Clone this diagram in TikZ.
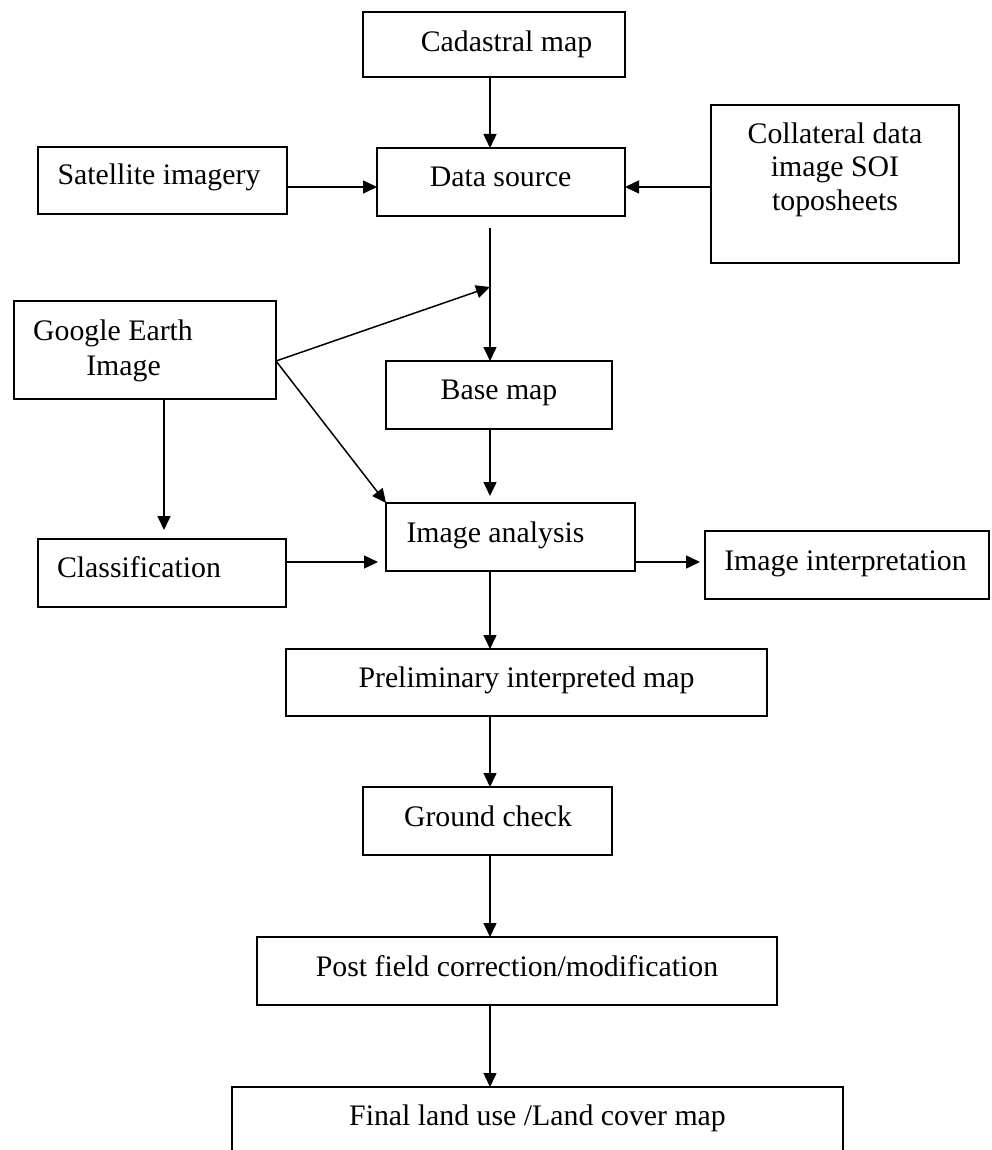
\documentclass[tikz,border=0pt]{standalone}
\usepackage{fontspec}
\setmainfont{Liberation Serif}
\usetikzlibrary{arrows.meta}
\begin{document}
\begin{tikzpicture}[x=1pt,y=-1pt,
  box/.style={draw, line width=1.6pt, inner sep=0pt, outer sep=0pt},
  txt/.style={inner sep=0pt, outer sep=0pt, font=\fontsize{29.8}{33.5}\selectfont},
  arr/.style={line width=1.5pt, -{Triangle[length=14pt,width=13pt]}},
  ln/.style={line width=1.5pt}]
\useasboundingbox (0,0) rectangle (991,1150);
\clip (0,0) rectangle (991,1150);
% boxes
\node[box, minimum width=262pt, minimum height=65pt] (cad) at (494,44.5) {};
\node[box, minimum width=249pt, minimum height=67pt] (sat) at (162.5,180.5) {};
\node[box, minimum width=248pt, minimum height=68pt] (ds) at (501,182) {};
\node[box, minimum width=248pt, minimum height=158pt] (col) at (835,184) {};
\node[box, minimum width=262pt, minimum height=98pt] (ge) at (145,350) {};
\node[box, minimum width=226pt, minimum height=68pt] (base) at (499,395) {};
\node[box, minimum width=249pt, minimum height=68pt] (ia) at (510.5,537) {};
\node[box, minimum width=248pt, minimum height=68pt] (cls) at (162,573) {};
\node[box, minimum width=284pt, minimum height=68pt] (ii) at (847,565) {};
\node[box, minimum width=481pt, minimum height=67pt] (pre) at (526.5,682.5) {};
\node[box, minimum width=249pt, minimum height=68pt] (gc) at (487.5,821) {};
\node[box, minimum width=520pt, minimum height=68pt] (pf) at (517,971) {};
\node[box, minimum width=611pt, minimum height=68pt] (fin) at (537.5,1121) {};
% texts
\node[txt, anchor=base] (cadT) at (506.5,52) {Cadastral map};
\node[txt, anchor=base] (satT) at (159,185) {Satellite imagery};
\node[txt, anchor=base] (dsT) at (500.5,187) {Data source};
\node[txt, anchor=north, align=center] (colT) at (835,122.6) {Collateral data\\image SOI\\toposheets};
\node[txt, anchor=base] (geT1) at (113,340) {Google Earth};
\node[txt, anchor=base] (geT2) at (123.5,375) {Image};
\node[txt, anchor=base] (baseT) at (499,399.5) {Base map};
\node[txt, anchor=base] (iaT) at (495.5,542) {Image analysis};
\node[txt, anchor=base] (clsT) at (139,577) {Classification};
\node[txt, anchor=base] (iiT) at (845.5,570) {Image interpretation};
\node[txt, anchor=base] (preT) at (526.5,687) {Preliminary interpreted map};
\node[txt, anchor=base] (gcT) at (488,826) {Ground check};
\node[txt, anchor=base] (pfT) at (517,976) {Post field correction/modification};
\node[txt, anchor=base] (finT) at (537.5,1125) {Final land use /Land cover map};
% helper coordinates
\coordinate (colx) at (490,0);
\coordinate (j) at (490,287);
\coordinate (gep) at (276,361);
\coordinate (rowA) at (0,187);
\coordinate (rowB) at (0,562);
% connectors
\draw[arr] (cad.south -| colx) -- (ds.north -| colx);
\draw[arr] (sat.east |- rowA) -- (ds.west |- rowA);
\draw[arr] (col.west |- rowA) -- (ds.east |- rowA);
\draw[arr] ([yshift=-12pt]ds.south -| colx) -- (base.north -| colx);
\draw[arr] (gep) -- (j);
\draw[arr] (gep) -- (ia.north west);
\draw[arr, shorten >=9pt] (ge.south -| 164,0) -- (cls.north -| 164,0);
\draw[arr, shorten >=7pt] (base.south -| colx) -- (ia.north -| colx);
\draw[arr, shorten >=8pt] (cls.east |- rowB) -- (ia.west |- rowB);
\draw[arr, shorten >=5pt] (ia.east |- rowB) -- (ii.west |- rowB);
\draw[arr] (ia.south -| colx) -- (pre.north -| colx);
\draw[arr] (pre.south -| colx) -- (gc.north -| colx);
\draw[arr] (gc.south -| colx) -- (pf.north -| colx);
\draw[arr] (pf.south -| colx) -- (fin.north -| colx);
\end{tikzpicture}
\end{document}
